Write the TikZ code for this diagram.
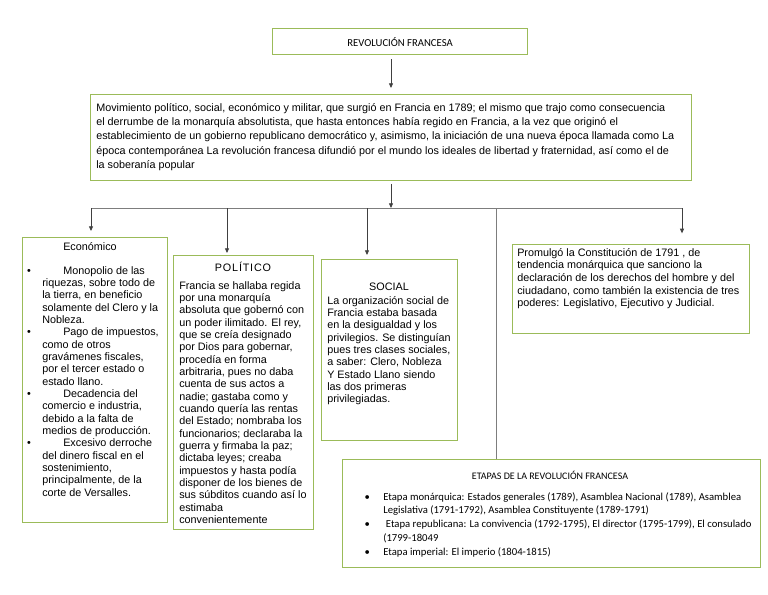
\documentclass[tikz,border=0pt]{standalone}
\usepackage{fontspec}
\setmainfont{Liberation Sans}
\newfontfamily\calib{Carlito}
\usetikzlibrary{arrows.meta}
\definecolor{boxgreen}{RGB}{155,187,89}
\definecolor{linegray}{RGB}{125,125,125}
\newcommand\bul{\textbullet\hspace{8.5pt}}
\newcommand\etbul{\textbullet\hspace{10pt}}
\tikzset{
	box/.style={draw=boxgreen, line width=0.9pt, anchor=north west, inner sep=0pt},
	txt/.style={anchor=north west, align=left, inner sep=0pt, font=\fontsize{8.1}{9.25}\selectfont},
	head/.style={inner sep=0pt, font=\fontsize{8.1}{9.25}\selectfont},
	conn/.style={draw=linegray, line width=0.6pt},
	arr/.style={draw=black!75, line width=0.6pt, -{Triangle[length=3.5pt,width=3pt]}}
}

\begin{document}
\begin{tikzpicture}[x=0.75pt, y=-0.75pt]
		%%%%% START %%%%%
		\useasboundingbox (0, 0) rectangle (768, 594);
		
		\node[box, minimum width=191.25pt, minimum height=19.5pt, font=\calib\fontsize{8}{9}\selectfont] (title) at (272, 28) {REVOLUCIÓN FRANCESA};
		\node[box, minimum width=450.75pt, minimum height=64.5pt] (para) at (90, 94) {};
		\node[box, minimum width=108.75pt, minimum height=213.75pt] (eco) at (22, 237) {};
		\node[box, minimum width=105pt, minimum height=205.5pt] (pol) at (173, 255) {};
		\node[box, minimum width=102pt, minimum height=135.75pt] (soc) at (321, 259) {};
		\node[box, minimum width=177.75pt, minimum height=66.75pt] (prom) at (512, 244) {};
		\node[box, minimum width=313.5pt, minimum height=81pt] (etap) at (342, 459) {};
		
		\coordinate (hub) at (391, 208);
		\coordinate (bEco) at (91, 208);
		\coordinate (bPol) at (227, 208);
		\coordinate (bSoc) at (367, 208);
		\coordinate (bEtap) at (496, 208);
		\coordinate (bProm) at (682, 208);
		
		\draw[arr, shorten <=3pt, shorten >=4.5pt] (title.south -| hub) -- (hub |- para.north);
		\draw[arr, shorten <=2pt] (hub |- para.south) -- (hub);
		\draw[conn] (bEco) -- (bProm);
		\draw[arr, shorten >=4.5pt] (bEco) -- (bEco |- eco.north);
		\draw[arr, shorten >=1.5pt] (bPol) -- (bPol |- pol.north);
		\draw[arr, shorten >=3pt] (bSoc) -- (bSoc |- soc.north);
		\draw[conn] (bEtap) -- (bEtap |- etap.north);
		\draw[arr, shorten >=8pt] (bProm) -- (bProm |- prom.north);
		
		\node[txt, font=\fontsize{8.1}{10.7}\selectfont] (paraText) at (96, 103) {Movimiento político, social, económico y militar, que surgió en Francia en 1789; el mismo que trajo como consecuencia\\
			el derrumbe de la monarquía absolutista, que hasta entonces había regido en Francia, a la vez que originó el\\
			establecimiento de un gobierno republicano democrático y, asimismo, la iniciación de una nueva época llamada como La\\
			época contemporánea La revolución francesa difundió por el mundo los ideales de libertad y fraternidad, así como el de\\
			la soberanía popular};
		
		\node[head] (ecoHead) at (90, 247) {Económico};
		\node[txt] (ecoText) at (42, 266) {\llap{\bul}\hspace*{15.75pt}Monopolio de las\\
			riquezas, sobre todo de\\
			la tierra, en beneficio\\
			solamente del Clero y la\\
			Nobleza.\\
			\llap{\bul}\hspace*{15.75pt}Pago de impuestos,\\
			como de otros\\
			gravámenes fiscales,\\
			por el tercer estado o\\
			estado llano.\\
			\llap{\bul}\hspace*{15.75pt}Decadencia del\\
			comercio e industria,\\
			debido a la falta de\\
			medios de producción.\\
			\llap{\bul}\hspace*{15.75pt}Excesivo derroche\\
			del dinero fiscal en el\\
			sostenimiento,\\
			principalmente, de la\\
			corte de Versalles.};
		
		\node[head] (polHead) at (243, 267) {P\kern0.6pt O\kern0.6pt L\kern0.6pt Í\kern0.6pt T\kern0.6pt I\kern0.6pt C\kern0.6pt O};
		\node[txt] (polText) at (179, 281) {Francia se hallaba regida\\
			por una monarquía\\
			absoluta que gobernó con\\
			un poder ilimitado. El rey,\\
			que se creía designado\\
			por Dios para gobernar,\\
			procedía en forma\\
			arbitraria, pues no daba\\
			cuenta de sus actos a\\
			nadie; gastaba como y\\
			cuando quería las rentas\\
			del Estado; nombraba los\\
			funcionarios; declaraba la\\
			guerra y firmaba la paz;\\
			dictaba leyes; creaba\\
			impuestos y hasta podía\\
			disponer de los bienes de\\
			sus súbditos cuando así lo\\
			estimaba\\
			convenientemente};
		
		\node[head] (socHead) at (389, 287) {SOCIAL};
		\node[txt] (socText) at (327, 296) {La organización social de\\
			Francia estaba basada\\
			en la desigualdad y los\\
			privilegios. Se distinguían\\
			pues tres clases sociales,\\
			a saber: Clero, Nobleza\\
			Y Estado Llano siendo\\
			las dos primeras\\
			privilegiadas.};
		
		\node[txt, font=\fontsize{8.1}{9.5}\selectfont] (promText) at (517, 248) {Promulgó la Constitución de 1791 , de\\
			tendencia monárquica que sanciono la\\
			declaración de los derechos del hombre y del\\
			ciudadano, como también la existencia de tres\\
			poderes: Legislativo, Ejecutivo y Judicial.};
		
		\node[head, font=\calib\fontsize{7.5}{9}\selectfont] (etapHead) at (550, 475) {ETAPAS DE LA REVOLUCIÓN FRANCESA};
		\node[txt, font=\calib\fontsize{8}{10.3}\selectfont] (etapText) at (383, 492) {\llap{\etbul}Etapa monárquica: Estados generales (1789), Asamblea Nacional (1789), Asamblea\\
			Legislativa (1791-1792), Asamblea Constituyente (1789-1791)\\
			\llap{\etbul}\hspace*{2pt}Etapa republicana: La convivencia (1792-1795), El director (1795-1799), El consulado\\
			(1799-18049\\
			\llap{\etbul}Etapa imperial: El imperio (1804-1815)};
		
		%%%%% END %%%%%
	\end{tikzpicture}
\end{document}
